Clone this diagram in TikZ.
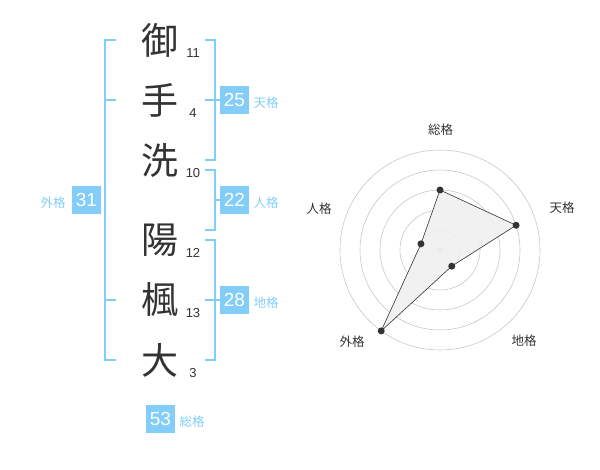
\documentclass[tikz,border=0pt]{standalone}
\usepackage{fontspec}
\setmainfont{Liberation Sans}
\newfontfamily\jp{Noto Sans CJK JP}
\definecolor{sky}{RGB}{130,205,250}
\definecolor{ink}{RGB}{51,51,51}
\definecolor{ring}{RGB}{200,200,200}
\tikzset{
  kanji/.style={font=\jp\fontsize{37}{37}\selectfont, text=ink, inner sep=0pt},
  stroke/.style={font=\fontsize{13}{13}\selectfont, text=ink, inner sep=0pt},
  valbox/.style={fill=sky, text=white, minimum width=29pt, minimum height=28pt, inner sep=0pt, font=\fontsize{19}{19}\selectfont},
  kaku/.style={font=\jp\fontsize{12.5}{12.5}\selectfont, text=sky, inner sep=0pt},
  brk/.style={draw=sky, line width=2pt},
  axislbl/.style={font=\jp\fontsize{12.5}{12.5}\selectfont, text=ink, inner sep=0pt},
  pt/.style={circle, fill=ink, inner sep=0pt, minimum size=7pt},
}
\begin{document}
\begin{tikzpicture}[x=1pt,y=-1pt]
\useasboundingbox (0,0) rectangle (600,470);
% characters
\node[kanji] (c1) at (160,40) {御};
\node[kanji] (c2) at (160,100) {手};
\node[kanji] (c3) at (160,160) {洗};
\node[kanji] (c4) at (160,240) {陽};
\node[kanji] (c5) at (160,300) {楓};
\node[kanji] (c6) at (160,360) {大};
\node[stroke] (s1) at (193,53) {11};
\node[stroke] (s2) at (193,113) {4};
\node[stroke] (s3) at (193,173) {10};
\node[stroke] (s4) at (193,253) {12};
\node[stroke] (s5) at (193,313) {13};
\node[stroke] (s6) at (193,373) {3};
% brackets
\draw[brk] (116,40) -- (105,40) -- (105,360) -- (116,360);
\draw[brk] (105,100) -- (116,100);
\draw[brk] (105,300) -- (116,300);
\draw[brk] (205,40) -- (215,40) -- (215,160) -- (205,160);
\draw[brk] (205,100) -- (220,100);
\draw[brk] (205,170) -- (215,170) -- (215,230) -- (205,230);
\draw[brk] (215,200) -- (220,200);
\draw[brk] (205,240) -- (215,240) -- (215,360) -- (205,360);
\draw[brk] (205,300) -- (220,300);
% value boxes
\node[valbox] (g) at (86.5,200) {31};
\node[kaku] (gl) at (53,203) {外格};
\node[valbox] (t) at (234.5,100) {25};
\node[kaku] (tl) at (266,103) {天格};
\node[valbox] (j) at (234.5,200) {22};
\node[kaku] (jl) at (266,203) {人格};
\node[valbox] (c) at (234.5,300) {28};
\node[kaku] (cl) at (266,303) {地格};
\node[valbox] (s) at (160.5,419) {53};
\node[kaku] (sl) at (192,422) {総格};
% radar
\coordinate (o) at (440,250);
\foreach \r in {20,40,60,80,100} \draw[ring, line width=0.6pt] (o) circle (\r);
\fill[ring] (o) circle (3.5);
\path (o) ++(0,-60) coordinate (ps);
\path (o) ++({80*cos(18)},{-80*sin(18)}) coordinate (pt2);
\path (o) ++({20*cos(54)},{20*sin(54)}) coordinate (pc);
\path (o) ++({-100*cos(54)},{100*sin(54)}) coordinate (pg);
\path (o) ++({-20*cos(18)},{-20*sin(18)}) coordinate (pj);
\fill[black!6, opacity=0.9] (ps) -- (pt2) -- (pc) -- (pg) -- (pj) -- cycle;
\draw[ink, line width=0.6pt] (ps) -- (pt2) -- (pc) -- (pg) -- (pj) -- cycle;
\foreach \p in {ps,pt2,pc,pg,pj} \node[pt] at (\p) {};
\node[axislbl] (as) at (440.5,130) {総格};
\node[axislbl] (at) at (562,208) {天格};
\node[axislbl] (aj) at (319,209) {人格};
\node[axislbl] (ag) at (352,342) {外格};
\node[axislbl] (ac) at (524,341) {地格};
\end{tikzpicture}
\end{document}
